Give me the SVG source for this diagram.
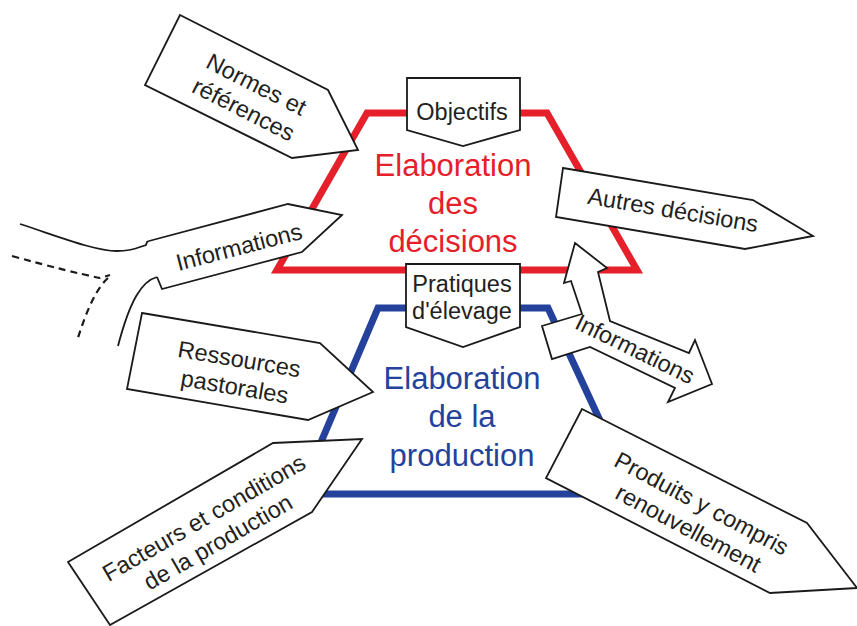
<svg xmlns="http://www.w3.org/2000/svg" width="857" height="626" viewBox="0 0 857 626">
<style>
  .box{fill:#fff;stroke:#1a1a1a;stroke-width:1.8;stroke-linejoin:miter}
  .lbl{font-family:"Liberation Sans",Arial,sans-serif;font-size:23.5px;fill:#231f20;text-anchor:middle}
  .big{font-family:"Liberation Sans",Arial,sans-serif;font-size:31px;text-anchor:middle}
  .line{fill:none;stroke:#1a1a1a;stroke-width:1.8}
  .dash{fill:none;stroke:#1a1a1a;stroke-width:2.2;stroke-dasharray:7,5}
</style>
<rect width="857" height="626" fill="#fff"/>

<g id="decisions">
  <polygon points="367,113 547,113 637,270 277,270" fill="none" stroke="#e5202a" stroke-width="7"/>
  <text class="big" fill="#e5202a"><tspan x="453" y="176">Elaboration</tspan><tspan x="453" y="214">des</tspan><tspan x="453" y="252">décisions</tspan></text>
</g>

<g id="production">
  <polygon points="378,308 548,308 634,494 299,494" fill="none" stroke="#24429b" stroke-width="7"/>
  <text class="big" fill="#24429b"><tspan x="462" y="389">Elaboration</tspan><tspan x="462" y="427">de la</tspan><tspan x="462" y="466">production</tspan></text>
</g>

<g id="connectors">
  <path class="line" d="M20,224 C60,237 95,251 117,251 C128,251 135,249 140,247 L146,245 L147,242 L149,241"/>
  <path class="line" d="M157,277 C142,281 130,300 118,346"/>
  <path class="dash" d="M12,256 Q70,272 100,278 L110,275"/>
  <path class="dash" d="M108,278 Q92,292 77,341"/>
</g>

<g id="objectifs">
  <polygon class="box" points="407,78 520,78 520,130 463,146 407,130"/>
  <text class="lbl" x="462" y="120">Objectifs</text>
</g>

<g id="pratiques">
  <polygon class="box" points="406,264 520,264 520,327 463,347 406,327"/>
  <text class="lbl"><tspan x="462" y="292">Pratiques</tspan><tspan x="462" y="319">d'élevage</tspan></text>
</g>

<g id="normes">
  <polygon class="box" points="180,15 328,90 358,150 292,158 145,85"/>
  <g transform="translate(250,97) rotate(27)">
    <text class="lbl"><tspan x="0" y="-6">Normes et</tspan><tspan x="0" y="22">références</tspan></text>
  </g>
</g>

<g id="informations-gauche">
  <polygon points="149,240 288,204 342,215 302,252 162,289 157,277" fill="#fff" stroke="none"/>
  <path class="line" d="M149,241 L288,204 L342,215 L302,252 L162,289 L157,277"/>
  <g transform="translate(239,247) rotate(-14.5)">
    <text class="lbl" x="0" y="8">Informations</text>
  </g>
</g>

<g id="autres-decisions">
  <polygon class="box" points="563,168 753,200 813,236 745,249 556,217"/>
  <g transform="translate(673,210) rotate(9.6)">
    <text class="lbl" x="0" y="8">Autres décisions</text>
  </g>
</g>

<g id="informations-droite">
  <polygon class="box" points="575,243 607,268 598,272 610,321 689,353 695,340 712,384 668,402 675,388 590,347 552,359 542,326 582,314 571,281 564,283"/>
  <g transform="translate(635,349) rotate(26)">
    <text class="lbl" x="0" y="8">Informations</text>
  </g>
</g>

<g id="ressources">
  <polygon class="box" points="142,313 320,343 373,392 308,420 127,389"/>
  <g transform="translate(237,373) rotate(9.6)">
    <text class="lbl"><tspan x="0" y="-6">Ressources</tspan><tspan x="0" y="22">pastorales</tspan></text>
  </g>
</g>

<g id="facteurs">
  <polygon class="box" points="68,562 273,443 362,439 312,512 110,625"/>
  <g transform="translate(211,530) rotate(-30)">
    <text class="lbl"><tspan x="0" y="-6">Facteurs et conditions</tspan><tspan x="0" y="22">de la production</tspan></text>
  </g>
</g>

<g id="produits">
  <polygon class="box" points="582,409 807,523 857,588 770,593 546,478"/>
  <g transform="translate(695,516) rotate(28)">
    <text class="lbl"><tspan x="0" y="-6">Produits y compris</tspan><tspan x="0" y="22">renouvellement</tspan></text>
  </g>
</g>
</svg>
